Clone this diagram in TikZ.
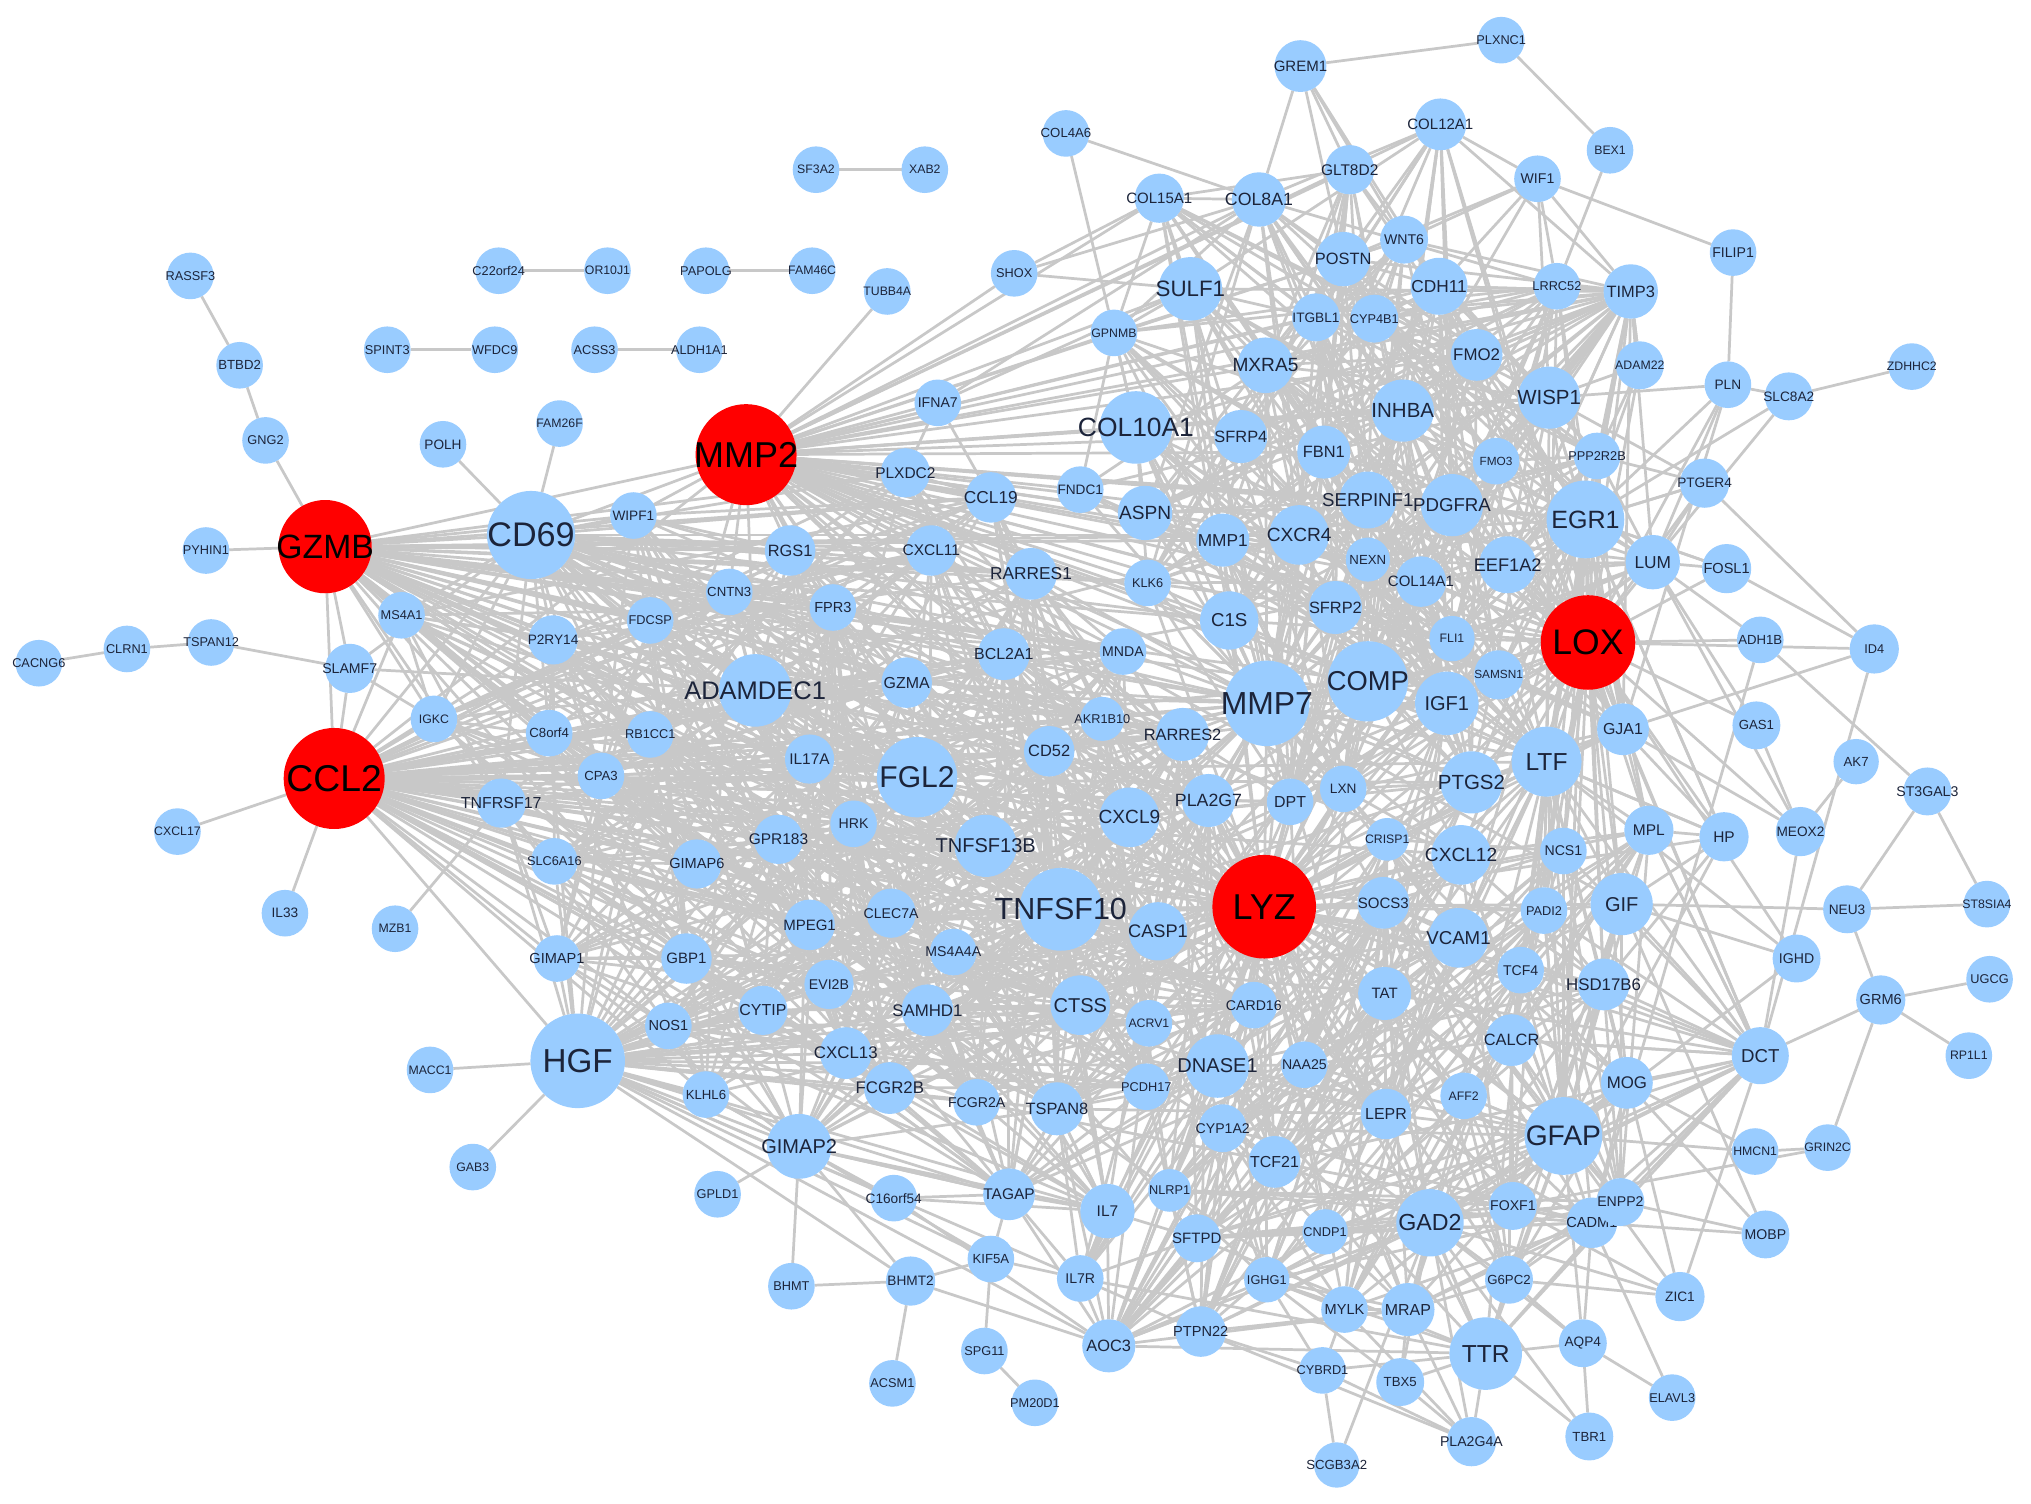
\documentclass[tikz,border=0pt]{standalone}
\usepackage{fontspec}
\setmainfont{Liberation Sans}
\usetikzlibrary{backgrounds}
\definecolor{nblue}{RGB}{153,204,255}
\definecolor{nred}{RGB}{255,0,0}
\definecolor{edgec}{RGB}{200,200,200}
\definecolor{labc}{RGB}{28,36,58}
\tikzset{
  bnode/.style={circle,fill=nblue,inner sep=0pt,outer sep=0pt},
  rnode/.style={circle,fill=nred,inner sep=0pt,outer sep=0pt},
  lbl/.style={inner sep=0pt,text=labc},
  rlbl/.style={inner sep=0pt,text=black},
  edg/.style={draw=edgec,line width=0.6pt}
}
\newcommand\GN[4]{\node[bnode,minimum size=#1mm] (#3) at (#4) {};\node[lbl,font=\fontsize{#2}{#2}\selectfont] at (#3) {#3};}
\newcommand\RN[4]{\node[rnode,minimum size=#1mm] (#3) at (#4) {};\node[rlbl,font=\fontsize{#2}{#2}\selectfont] at (#3) {#3};}
\newcommand\hub[2]{\foreach \tg in {#2} {\draw[edg] (#1) -- (\tg);}}
\newcommand\clq[3]{%
  \foreach \na [count=\ci] in #1 {%
    \foreach \nb [count=\cj] in #1 {%
      \ifnum\cj>\ci\relax
        \pgfmathtruncatemacro\hh{mod(mod(\ci*73+#3,101)*mod(\cj*59+#3,103)+\ci+3*\cj,97)}%
        \ifnum\hh<#2\relax \draw[edg] (\na) -- (\nb);\fi
      \fi
    }%
  }%
}
\def\LI{ADAMDEC1,FGL2,TNFSF10,TNFSF13B,CXCL9,CXCL11,CXCL13,CCL19,RGS1,GZMA,IL17A,GPR183,HRK,MPEG1,CLEC7A,MS4A4A,GBP1,CYTIP,SAMHD1,CTSS,BCL2A1,MNDA,CD52,RARRES1,RARRES2,PLA2G7,CASP1,FCGR2B,FCGR2A,TSPAN8,EVI2B,GIMAP6,GIMAP2,TAGAP,CNTN3,FPR3,FDCSP,P2RY14,C8orf4,RB1CC1,CPA3,AKR1B10,IL7,KLHL6,NOS1,WIPF1,MS4A1,IGKC,TNFRSF17,SLC6A16,GIMAP1,PLXDC2,ACRV1,CARD16,PCDH17}
\def\LF{COL10A1,SULF1,MXRA5,INHBA,WISP1,COL8A1,COL15A1,COL12A1,GLT8D2,POSTN,CDH11,ITGBL1,CYP4B1,WNT6,FMO2,SFRP4,FBN1,SERPINF1,PDGFRA,FMO3,PPP2R2B,TIMP3,LRRC52,EGR1,LUM,EEF1A2,COL14A1,NEXN,CXCR4,MMP1,ASPN,FNDC1,C1S,SFRP2,COMP,MMP7,IGF1,FLI1,SAMSN1,GJA1,LTF,PTGS2,DPT,LXN,GPNMB,KLK6}
\def\LN{GFAP,GAD2,TTR,MOG,DCT,CADM1,FOXF1,G6PC2,CALCR,HSD17B6,TCF4,PADI2,NCS1,GIF,MPL,TAT,LEPR,AFF2,NAA25,DNASE1,CYP1A2,TCF21,SFTPD,NLRP1,CNDP1,MYLK,MRAP,IGHG1,SOCS3,VCAM1,CXCL12,CRISP1,ENPP2,AOC3,PTPN22}
\def\LM{TNFSF10,CASP1,CXCL9,CTSS,ACRV1,CARD16,DNASE1,PCDH17,TSPAN8,CYP1A2,TCF21,IL7,NLRP1,SFTPD,SAMHD1,MS4A4A,FCGR2A,TAGAP,IL7R,AOC3,PTPN22,IGHG1,NAA25,LEPR,TAT,SOCS3,PLA2G7,DPT,LXN,CRISP1,VCAM1,CXCL12,MMP7,COMP,IGF1,PTGS2,CD52,RARRES2,AKR1B10}
\begin{document}
\begin{tikzpicture}[x=0.1mm,y=-0.1mm]
\useasboundingbox (0,0) rectangle (1568,1161);
% ---------------- nodes
\GN{3.6}{2.8}{RASSF3}{147,213}
\GN{3.6}{2.9}{BTBD2}{185,282}
\GN{3.6}{2.8}{GNG2}{205,340}
\RN{7.2}{7.4}{GZMB}{251,422}
\GN{3.6}{2.8}{PYHIN1}{159,425}
\GN{3.6}{2.8}{CACNG6}{30,512}
\GN{3.6}{2.8}{CLRN1}{98,501}
\GN{3.6}{2.8}{TSPAN12}{163,496}
\GN{3.8}{3.1}{SLAMF7}{270,516}
\GN{3.6}{2.8}{MS4A1}{310,475}
\GN{3.6}{2.7}{IGKC}{335,555}
\RN{7.8}{8.2}{CCL2}{258,601}
\GN{3.6}{2.7}{CXCL17}{137,642}
\GN{3.6}{3.0}{IL33}{220,705}
\GN{3.6}{2.7}{MZB1}{305,717}
\GN{3.8}{3.5}{TNFRSF17}{387,620}
\GN{3.6}{2.8}{SLC6A16}{428,665}
\GN{3.6}{3.2}{GIMAP1}{430,740}
\GN{3.8}{3.2}{GIMAP6}{538,667}
\GN{3.6}{3.0}{POLH}{342,343}
\GN{3.6}{2.7}{FAM26F}{432,327}
\GN{6.8}{7.5}{CD69}{410,413}
\GN{3.6}{3.0}{WIPF1}{489,398}
\GN{3.8}{3.0}{P2RY14}{427,494}
\GN{3.6}{2.8}{FDCSP}{502,479}
\GN{3.6}{2.9}{CNTN3}{563,457}
\GN{3.9}{3.6}{RGS1}{610,425}
\GN{3.6}{3.2}{FPR3}{643,469}
\GN{3.6}{2.9}{C8orf4}{424,566}
\GN{3.6}{2.8}{RB1CC1}{502,567}
\GN{3.6}{2.9}{CPA3}{464,599}
\GN{5.6}{5.6}{ADAMDEC1}{583,533}
\GN{3.8}{3.4}{IL17A}{625,586}
\GN{3.9}{3.5}{GZMA}{700,527}
\GN{6.2}{6.6}{FGL2}{708,600}
\GN{3.6}{3.1}{HRK}{659,636}
\GN{3.8}{3.4}{GPR183}{601,648}
\RN{7.8}{7.9}{MMP2}{576,351}
\GN{3.6}{2.7}{SF3A2}{630,131}
\GN{3.6}{2.7}{XAB2}{714,131}
\GN{3.6}{2.8}{C22orf24}{385,209}
\GN{3.6}{2.7}{OR10J1}{469,209}
\GN{3.6}{2.8}{PAPOLG}{545,209}
\GN{3.6}{2.7}{FAM46C}{627,209}
\GN{3.6}{2.8}{SPINT3}{299,270}
\GN{3.6}{2.8}{WFDC9}{382,270}
\GN{3.6}{2.8}{ACSS3}{459,270}
\GN{3.6}{2.8}{ALDH1A1}{540,270}
\GN{3.6}{2.7}{TUBB4A}{685,225}
\GN{3.6}{2.8}{SHOX}{783,211}
\GN{3.6}{3.1}{IFNA7}{724,311}
\GN{3.8}{3.4}{PLXDC2}{699,365}
\GN{3.9}{3.8}{CCL19}{765,384}
\GN{3.9}{3.4}{CXCL11}{719,425}
\GN{3.6}{3.0}{FNDC1}{834,378}
\GN{4.2}{4.2}{ASPN}{884,396}
\GN{4.0}{3.8}{RARRES1}{796,443}
\GN{3.6}{2.8}{KLK6}{886,450}
\GN{4.1}{3.8}{MMP1}{944,417}
\GN{4.0}{3.5}{BCL2A1}{775,505}
\GN{3.6}{3.1}{MNDA}{867,503}
\GN{3.4}{2.8}{AKR1B10}{851,555}
\GN{3.9}{3.6}{CD52}{810,580}
\GN{4.1}{3.6}{RARRES2}{913,567}
\GN{4.5}{4.1}{C1S}{949,479}
\GN{6.6}{7.0}{MMP7}{978,543}
\GN{4.8}{4.4}{TNFSF13B}{761,653}
\GN{4.6}{4.2}{CXCL9}{872,631}
\GN{4.1}{3.9}{PLA2G7}{933,618}
\GN{3.6}{3.5}{DPT}{996,619}
\GN{3.6}{3.0}{LXN}{1037,609}
\GN{6.4}{6.7}{TNFSF10}{819,702}
\GN{4.5}{4.0}{CASP1}{894,719}
\RN{8.0}{7.9}{LYZ}{976,700}
\GN{3.9}{3.3}{MPEG1}{625,714}
\GN{3.8}{3.1}{CLEC7A}{688,705}
\GN{3.6}{3.1}{MS4A4A}{736,735}
\GN{3.9}{3.3}{GBP1}{530,740}
\GN{3.8}{3.1}{EVI2B}{640,760}
\GN{3.6}{3.2}{NOS1}{516,792}
\GN{3.8}{3.5}{CYTIP}{589,780}
\GN{4.0}{3.7}{SAMHD1}{716,780}
\GN{4.6}{4.4}{CTSS}{834,776}
\GN{3.6}{2.7}{ACRV1}{887,790}
\GN{3.6}{3.1}{CARD16}{968,776}
\GN{7.3}{7.3}{HGF}{446,819}
\GN{3.6}{2.7}{MACC1}{332,826}
\GN{3.6}{2.7}{GAB3}{365,901}
\GN{3.6}{2.9}{KLHL6}{545,845}
\GN{4.0}{3.7}{CXCL13}{653,813}
\GN{4.0}{3.7}{FCGR2B}{687,840}
\GN{3.6}{3.1}{FCGR2A}{754,851}
\GN{4.1}{3.6}{TSPAN8}{816,856}
\GN{3.6}{2.8}{PCDH17}{885,839}
\GN{4.9}{4.4}{DNASE1}{940,823}
\GN{3.6}{3.1}{NAA25}{1007,822}
\GN{5.0}{4.4}{GIMAP2}{617,885}
\GN{3.6}{2.8}{GPLD1}{554,922}
\GN{3.6}{3.0}{C16orf54}{690,925}
\GN{4.0}{3.4}{TAGAP}{779,922}
\GN{3.7}{3.1}{CYP1A2}{944,871}
\GN{4.0}{3.5}{TCF21}{984,897}
\GN{4.2}{3.4}{IL7}{855,935}
\GN{3.3}{2.8}{NLRP1}{903,919}
\GN{3.7}{3.3}{SFTPD}{924,956}
\GN{3.5}{2.8}{CNDP1}{1023,951}
\GN{3.6}{2.8}{BHMT}{611,993}
\GN{3.8}{3.0}{BHMT2}{703,989}
\GN{3.6}{2.9}{KIF5A}{765,972}
\GN{3.6}{3.1}{IL7R}{834,987}
\GN{3.6}{2.8}{SPG11}{760,1043}
\GN{3.6}{2.8}{ACSM1}{689,1068}
\GN{3.6}{2.8}{PM20D1}{799,1083}
\GN{4.1}{3.6}{AOC3}{856,1039}
\GN{3.9}{3.2}{PTPN22}{927,1028}
\GN{3.5}{2.8}{IGHG1}{978,988}
\GN{3.6}{3.2}{MYLK}{1038,1011}
\GN{4.1}{3.5}{MRAP}{1087,1011}
\GN{3.6}{2.8}{CYBRD1}{1021,1058}
\GN{3.7}{2.9}{TBX5}{1081,1067}
\GN{3.5}{2.9}{SCGB3A2}{1032,1131}
\GN{5.2}{5.1}{GAD2}{1104,944}
\GN{5.6}{5.4}{TTR}{1147,1045}
\GN{3.8}{3.1}{PLA2G4A}{1136,1113}
\GN{3.9}{3.5}{LEPR}{1070,860}
\GN{3.6}{2.7}{AFF2}{1130,846}
\GN{4.1}{3.3}{TAT}{1069,767}
\GN{4.0}{3.3}{SOCS3}{1068,697}
\GN{3.3}{2.7}{CRISP1}{1071,648}
\GN{4.6}{4.2}{CXCL12}{1128,660}
\GN{4.6}{4.1}{VCAM1}{1126,724}
\GN{3.6}{3.1}{TCF4}{1174,749}
\GN{3.6}{2.8}{PADI2}{1192,703}
\GN{3.6}{3.1}{NCS1}{1207,657}
\GN{4.0}{3.7}{HSD17B6}{1238,760}
\GN{4.0}{3.6}{CALCR}{1167,803}
\GN{6.0}{6.2}{GFAP}{1207,877}
\GN{3.7}{3.1}{FOXF1}{1168,931}
\GN{3.7}{2.9}{G6PC2}{1165,988}
\GN{3.9}{3.2}{CADM1}{1229,944}
\GN{3.7}{3.1}{ENPP2}{1251,928}
\GN{3.7}{3.0}{AQP4}{1222,1037}
\GN{3.7}{2.9}{TBR1}{1227,1109}
\GN{3.6}{2.8}{ELAVL3}{1291,1079}
\GN{3.8}{3.0}{ZIC1}{1297,1001}
\GN{3.7}{3.1}{MOBP}{1363,953}
\GN{3.6}{2.7}{HMCN1}{1355,889}
\GN{3.6}{2.7}{GRIN2C}{1411,886}
\GN{4.0}{3.7}{MOG}{1256,836}
\GN{4.4}{4.1}{DCT}{1359,815}
\GN{3.8}{3.2}{GRM6}{1452,772}
\GN{3.6}{2.7}{RP1L1}{1520,815}
\GN{3.6}{2.8}{UGCG}{1536,756}
\GN{3.7}{3.1}{IGHD}{1387,740}
\GN{3.7}{3.0}{NEU3}{1426,702}
\GN{3.6}{2.7}{ST8SIA4}{1534,698}
\GN{3.7}{3.1}{ST3GAL3}{1488,611}
\GN{3.8}{3.0}{MEOX2}{1390,642}
\GN{3.5}{2.9}{AK7}{1433,588}
\GN{3.8}{3.4}{HP}{1331,646}
\GN{3.8}{3.4}{MPL}{1273,641}
\GN{4.8}{4.4}{GIF}{1252,698}
\GN{4.0}{3.5}{GJA1}{1253,563}
\GN{3.7}{2.9}{GAS1}{1356,560}
\GN{3.6}{2.9}{ADH1B}{1359,494}
\GN{3.8}{2.8}{ID4}{1447,501}
\RN{7.3}{7.8}{LOX}{1226,496}
\GN{5.4}{5.4}{LTF}{1194,588}
\GN{4.8}{4.5}{PTGS2}{1136,604}
\GN{4.9}{4.4}{IGF1}{1117,543}
\GN{6.2}{6.0}{COMP}{1056,526}
\GN{3.8}{2.6}{SAMSN1}{1157,521}
\GN{3.5}{2.7}{FLI1}{1121,493}
\GN{4.1}{3.6}{SFRP2}{1031,469}
\GN{3.9}{3.3}{COL14A1}{1097,449}
\GN{3.4}{2.9}{NEXN}{1056,432}
\GN{4.6}{4.2}{CXCR4}{1003,413}
\GN{4.4}{4.0}{EEF1A2}{1164,436}
\GN{4.4}{4.1}{SERPINF1}{1056,386}
\GN{4.8}{4.1}{PDGFRA}{1121,390}
\GN{6.0}{5.5}{EGR1}{1224,401}
\GN{4.2}{3.8}{LUM}{1276,434}
\GN{3.8}{3.2}{FOSL1}{1333,439}
\GN{3.8}{3.0}{PTGER4}{1316,373}
\GN{3.6}{2.6}{FMO3}{1155,356}
\GN{3.6}{2.8}{PPP2R2B}{1233,352}
\GN{4.1}{3.6}{FBN1}{1022,349}
\GN{4.1}{3.6}{SFRP4}{958,337}
\GN{5.6}{5.8}{COL10A1}{877,330}
\GN{4.8}{4.5}{INHBA}{1083,317}
\GN{4.8}{4.5}{WISP1}{1196,307}
\GN{3.7}{2.7}{ADAM22}{1266,282}
\GN{3.6}{3.0}{PLN}{1334,297}
\GN{3.7}{3.0}{SLC8A2}{1381,306}
\GN{3.6}{2.7}{ZDHHC2}{1476,283}
\GN{3.6}{3.1}{FILIP1}{1338,195}
\GN{4.2}{3.6}{TIMP3}{1259,225}
\GN{3.6}{2.8}{LRRC52}{1202,221}
\GN{4.0}{3.7}{FMO2}{1140,274}
\GN{4.3}{4.2}{MXRA5}{977,282}
\GN{3.6}{2.7}{GPNMB}{860,257}
\GN{4.9}{4.9}{SULF1}{919,223}
\GN{3.7}{3.0}{ITGBL1}{1016,245}
\GN{3.7}{2.8}{CYP4B1}{1061,246}
\GN{4.2}{3.6}{POSTN}{1037,200}
\GN{4.4}{3.8}{CDH11}{1111,221}
\GN{3.7}{3.1}{WNT6}{1084,185}
\GN{3.8}{3.3}{COL15A1}{895,153}
\GN{4.2}{3.9}{COL8A1}{972,154}
\GN{3.8}{3.4}{GLT8D2}{1042,131}
\GN{3.6}{2.9}{COL4A6}{823,103}
\GN{4.0}{3.3}{GREM1}{1004,51}
\GN{4.0}{3.3}{COL12A1}{1112,96}
\GN{3.6}{2.8}{PLXNC1}{1159,31}
\GN{3.6}{3.1}{WIF1}{1187,138}
\GN{3.6}{2.7}{BEX1}{1243,116}
% ---------------- edges
\begin{scope}[on background layer]
\fill[white] (0,0) rectangle (1568,1161);
\clq{\LI}{26}{5}
\clq{\LF}{31}{11}
\clq{\LN}{28}{17}
\clq{\LM}{14}{23}
\hub{GZMB}{GNG2,PYHIN1,CCL2,CD69,MMP2,SLAMF7,MS4A1,IGKC,WIPF1,P2RY14,FDCSP,CNTN3,RGS1,FPR3,CXCL11,CCL19,PLXDC2,ADAMDEC1,GZMA,FGL2,IL17A,RB1CC1,C8orf4,CPA3,TNFRSF17,BCL2A1,RARRES1,MNDA,CD52,CXCL9,TNFSF13B,TNFSF10,LYZ,CTSS,CASP1,GPR183,HRK,GIMAP6,MPEG1,CLEC7A,MS4A4A,SAMHD1,PLA2G7,CXCL13,AKR1B10,KLK6,MMP7,MMP1,C1S,CXCR4,GBP1,RARRES2,COMP,IGF1}
\hub{CCL2}{SLAMF7,IGKC,CXCL17,IL33,TNFRSF17,CPA3,C8orf4,RB1CC1,ADAMDEC1,IL17A,FGL2,GZMA,CXCL11,CCL19,RGS1,FPR3,CNTN3,FDCSP,P2RY14,MS4A1,CXCL9,CXCL12,CXCL13,TNFSF10,LYZ,CASP1,CTSS,GPR183,HRK,MPEG1,CLEC7A,SAMHD1,MS4A4A,GIMAP6,SLC6A16,GBP1,CYTIP,NOS1,EVI2B,HGF,MMP7,VCAM1,SOCS3,PTGS2,IL7,TNFSF13B,MMP2,CD69,BCL2A1,CD52,RARRES2,PLA2G7,DPT,MNDA,AKR1B10,GIMAP1,KLHL6,FCGR2B,TSPAN8,LTF,IGF1,COMP,C1S,CXCR4,TAGAP,DNASE1}
\hub{CD69}{POLH,FAM26F,MMP2,WIPF1,P2RY14,FDCSP,CNTN3,RGS1,FPR3,CXCL11,CCL19,ADAMDEC1,GZMA,FGL2,IL17A,RB1CC1,C8orf4,CPA3,BCL2A1,RARRES1,CD52,TNFSF13B,TNFSF10,LYZ,CTSS,CXCL9,GPR183,MNDA,MS4A1,IGKC,TNFRSF17,HRK,GIMAP6,CASP1,PLA2G7,MPEG1,CLEC7A,SLAMF7,PLXDC2,MMP7,C1S,CXCR4,KLK6,AKR1B10,RARRES2}
\hub{HGF}{MACC1,GAB3,NOS1,KLHL6,GIMAP2,CYTIP,GBP1,CXCL13,FCGR2B,FCGR2A,TSPAN8,CTSS,TNFSF10,LYZ,TAGAP,C16orf54,IL7,MMP7,MMP2,SAMHD1,EVI2B,MPEG1,GIMAP1,GIMAP6,SLC6A16,TNFRSF17,IL7R,AOC3,DNASE1,CASP1,PCDH17,ACRV1,CARD16,MS4A4A,CLEC7A,GPR183,HRK,CXCL9,TNFSF13B,CXCL12,VCAM1,KIF5A,BHMT2,CD52,FGL2,ADAMDEC1,IL17A,CPA3,RB1CC1,C8orf4}
\hub{MMP2}{TUBB4A,SHOX,IFNA7,PLXDC2,CCL19,FNDC1,COL10A1,SULF1,COL8A1,COL15A1,GPNMB,MXRA5,SFRP4,FBN1,INHBA,POSTN,CDH11,ITGBL1,WISP1,TIMP3,SERPINF1,PDGFRA,EGR1,LUM,ASPN,MMP1,CXCR4,C1S,SFRP2,COMP,MMP7,RGS1,CXCL11,RARRES1,KLK6,LOX,IGF1,LTF,PTGS2,CXCL12,TNFSF10,LYZ,DPT,CNTN3,FPR3,WIPF1,FMO2,GLT8D2,COL12A1,EEF1A2,COL14A1,NEXN,FLI1,BCL2A1,MNDA,CD52,CXCL9,PLA2G7,FGL2,GZMA,ADAMDEC1,CYP4B1,SAMSN1}
\hub{LYZ}{TNFSF10,CASP1,CXCL9,PLA2G7,DPT,LXN,MMP7,COMP,IGF1,PTGS2,CXCL12,CRISP1,SOCS3,VCAM1,TAT,CARD16,DNASE1,NAA25,ACRV1,CTSS,SAMHD1,TNFSF13B,FGL2,ADAMDEC1,GZMA,RARRES2,CD52,AKR1B10,MNDA,BCL2A1,C1S,SFRP2,CXCR4,MMP1,RARRES1,KLK6,LTF,GIF,NCS1,PADI2,TCF4,HSD17B6,CALCR,LEPR,AFF2,GFAP,GAD2,TTR,TCF21,CYP1A2,SFTPD,NLRP1,IL7,TSPAN8,PCDH17,FCGR2A,FCGR2B,CXCL13,MS4A4A,CLEC7A,MPEG1,HRK,GPR183,IL17A,EGR1,LOX,MPL,HP,GJA1,SAMSN1,FLI1,MOG,DCT,CADM1,FOXF1,G6PC2,CNDP1,IGHG1,MYLK,MRAP,TAGAP,GIMAP2,COL14A1,NEXN,SERPINF1,PDGFRA,EEF1A2,AOC3,PTPN22,IL7R}
\hub{LOX}{EGR1,LUM,FOSL1,ADH1B,ID4,GAS1,GJA1,LTF,MPL,HP,MEOX2,GIF,NCS1,IGF1,SAMSN1,COMP,FLI1,COL14A1,EEF1A2,PDGFRA,WISP1,TIMP3,PTGS2,CXCL12,PTGER4,PPP2R2B,FMO3,SERPINF1,NEXN,SFRP2,MMP7,PADI2,TCF4,HSD17B6,CALCR,GFAP,VCAM1,CRISP1,ADAM22,PLN,FMO2,INHBA,CDH11,POSTN,COL12A1,COL8A1,SULF1,COL10A1,MXRA5,FBN1,DPT,LXN,SOCS3,DCT,IGHD,MOG,C1S,CXCR4}
\hub{EGR1}{LTF,GIF,NCS1,PADI2,MPL,HP,GJA1,CXCL12,PTGS2,FOSL1,LUM,PPP2R2B,PTGER4,ADAM22,TIMP3,WISP1,SAMSN1,FLI1,EEF1A2,COL14A1,IGF1,COMP,VCAM1,TCF4,HSD17B6,GFAP}
\hub{TIMP3}{WISP1,LUM,INHBA,FMO2,CDH11,PDGFRA,SERPINF1,EEF1A2,PPP2R2B,FMO3,LRRC52,COL12A1,COL14A1,COMP,ADAM22,GJA1,LTF,MXRA5,SULF1,COL10A1,POSTN}
\hub{LTF}{GIF,NCS1,PADI2,TCF4,HSD17B6,CALCR,GFAP,MPL,HP,GJA1,CXCL12,VCAM1,PTGS2,SOCS3,CRISP1,TAT,LEPR,AFF2,MOG,DCT,CADM1,FOXF1}
\hub{GFAP}{HSD17B6,CALCR,TCF4,PADI2,NCS1,GIF,MPL,VCAM1,CXCL12,TAT,LEPR,AFF2,FOXF1,G6PC2,CADM1,ENPP2,MOG,GAD2,TTR,SOCS3}
\hub{MMP7}{C1S,SFRP2,CXCR4,MMP1,COMP,IGF1,PTGS2,LXN,DPT,PLA2G7,RARRES2,CXCL9,CD52,AKR1B10,MNDA,KLK6,ASPN,FBN1,SERPINF1,NEXN,COL14A1,FLI1,SAMSN1,LTF,GIF,CXCL12,VCAM1,SOCS3,CRISP1,TNFSF10,CASP1,CTSS,FGL2,ADAMDEC1,GZMA,BCL2A1,RARRES1,COL10A1,SULF1,MXRA5,INHBA}
\hub{TNFSF10}{TNFSF13B,CXCL9,CASP1,CTSS,SAMHD1,MS4A4A,CLEC7A,MPEG1,FGL2,GZMA,CD52,BCL2A1,ACRV1,CARD16,DNASE1,PCDH17,TSPAN8,FCGR2A,FCGR2B,CXCL13,TAGAP,IL7,PLA2G7,DPT,RARRES2,MNDA}
\foreach \na/\nb in {RASSF3/BTBD2,BTBD2/GNG2,CACNG6/CLRN1,CLRN1/TSPAN12,TSPAN12/SLAMF7,SLAMF7/IGKC,SLAMF7/ADAMDEC1,MZB1/TNFRSF17,SF3A2/XAB2,C22orf24/OR10J1,PAPOLG/FAM46C,SPINT3/WFDC9,ACSS3/ALDH1A1,
GIMAP2/GPLD1,GIMAP2/BHMT,BHMT/BHMT2,BHMT2/ACSM1,BHMT2/KIF5A,KIF5A/SPG11,SPG11/PM20D1,GIMAP2/C16orf54,GIMAP2/BHMT2,GIMAP2/KIF5A,BHMT2/AOC3,KIF5A/TAGAP,KIF5A/IL7R,C16orf54/TAGAP,C16orf54/IL7,C16orf54/AOC3,GIMAP2/TAGAP,GIMAP2/IL7,GIMAP2/FCGR2B,GIMAP2/CXCL13,GIMAP2/CTSS,GIMAP2/TNFSF10,GIMAP2/KLHL6,
GREM1/PLXNC1,PLXNC1/BEX1,BEX1/LRRC52,WIF1/FILIP1,FILIP1/PLN,PLN/SLC8A2,SLC8A2/ZDHHC2,COL4A6/COL8A1,COL4A6/GPNMB,GREM1/COL8A1,GREM1/GLT8D2,GREM1/POSTN,GREM1/WNT6,GREM1/CDH11,COL12A1/WIF1,WNT6/WIF1,WIF1/LRRC52,WIF1/CDH11,WIF1/POSTN,WIF1/INHBA,WIF1/WISP1,WIF1/TIMP3,TIMP3/ADAM22,ADAM22/WISP1,ADAM22/PPP2R2B,PLN/EGR1,PLN/LUM,PLN/GJA1,PLN/WISP1,SLC8A2/LUM,SLC8A2/EGR1,PTGER4/EGR1,PTGER4/LUM,PTGER4/ID4,PTGER4/WISP1,PTGER4/PPP2R2B,FOSL1/ID4,ADH1B/ST3GAL3,ID4/GJA1,ID4/DCT,GAS1/MEOX2,AK7/MEOX2,MEOX2/DCT,ADH1B/CADM1,LUM/GAS1,LUM/ADH1B,EGR1/FOSL1,LUM/FOSL1,ST3GAL3/NEU3,ST3GAL3/ST8SIA4,NEU3/ST8SIA4,NEU3/GIF,NEU3/GRM6,GRM6/UGCG,GRM6/RP1L1,GRM6/GRIN2C,GRM6/DCT,GRIN2C/HMCN1,GJA1/HP,GJA1/MPL,GJA1/MEOX2,MPL/HP,HP/GFAP,HP/HSD17B6,GIF/IGHD,LTF/IGHD,LTF/HP,GJA1/DCT,GIF/DCT,GIF/HP,GIF/MOBP,EGR1/HP,LUM/MEOX2,IGHD/GFAP,
DCT/HSD17B6,DCT/CALCR,DCT/ZIC1,DCT/MOG,DCT/ENPP2,DCT/CADM1,DCT/TCF4,DCT/NCS1,DCT/PADI2,DCT/MPL,MOG/HMCN1,MOG/MOBP,GFAP/HMCN1,FOXF1/GRIN2C,ENPP2/MOBP,CADM1/MOBP,CADM1/ELAVL3,AQP4/ELAVL3,AQP4/TBR1,AQP4/CADM1,TTR/TBR1,G6PC2/ZIC1,FOXF1/ZIC1,TTR/ENPP2,GFAP/ZIC1,GFAP/AQP4,G6PC2/AQP4,TTR/AQP4,GAD2/ZIC1,GAD2/AQP4,GAD2/TBR1,HSD17B6/ZIC1,
SCGB3A2/CYBRD1,SCGB3A2/GAD2,PLA2G4A/TTR,PLA2G4A/TBX5,PLA2G4A/CYBRD1,PLA2G4A/PTPN22,PLA2G4A/MRAP,PLA2G4A/GAD2,PLA2G4A/MYLK,TTR/TBX5,TTR/CYBRD1,TBX5/MRAP,TBX5/GAD2,TBX5/IGHG1,CYBRD1/PTPN22,CYBRD1/MYLK,CYBRD1/IGHG1,AOC3/IL7R,AOC3/IL7,AOC3/NLRP1,PTPN22/IL7R,IL7R/IL7,IL7R/TAGAP,IL7R/TTR,IL7R/SFTPD,AOC3/GAD2,
SHOX/COL15A1,SHOX/SULF1,SHOX/COL8A1,GPNMB/COL8A1,GPNMB/SULF1,GPNMB/COL10A1,GPNMB/COL15A1,IFNA7/PLXDC2,IFNA7/COL8A1,IFNA7/SULF1,IFNA7/CCL19,COL15A1/COL8A1}
  {\draw[edg] (\na) -- (\nb);}
\end{scope}
\end{tikzpicture}
\end{document}
